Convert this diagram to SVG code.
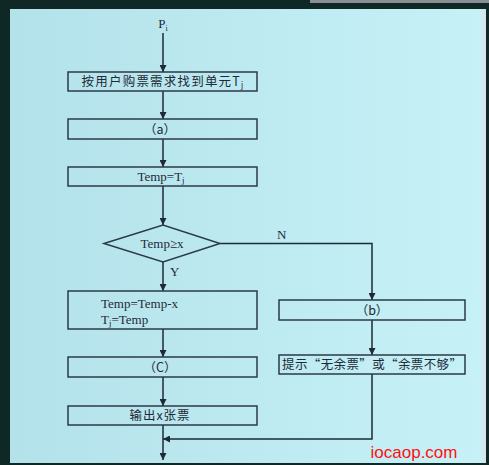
<svg xmlns="http://www.w3.org/2000/svg" width="489" height="465" viewBox="0 0 489 465">
<defs>
<linearGradient id="bg" x1="0" y1="0" x2="1" y2="0">
<stop offset="0" stop-color="#b4e2ea"/>
<stop offset="1" stop-color="#c6f1f7"/>
</linearGradient>
<marker id="ah" viewBox="0 0 10 10" refX="10" refY="5" markerWidth="7" markerHeight="7" markerUnits="userSpaceOnUse" orient="auto">
<path d="M0,0 L10,5 L0,10 z" fill="#1e2a36"/>
</marker>
<style>
.box{fill:none;stroke:#2b3a48;stroke-width:1.5}
.ln{fill:none;stroke:#1e2a36;stroke-width:1.5;marker-end:url(#ah)}
.cj{font-family:"Noto Sans CJK SC","Noto Sans",sans-serif;font-size:12.5px;fill:#1e2a36;text-anchor:middle}
.sf{font-family:"Liberation Serif","DejaVu Serif",serif;font-size:13px;fill:#1e2a36}
.c{text-anchor:middle}
</style>
</defs>
<rect x="0" y="0" width="489" height="465" fill="#0f2826"/>
<rect x="310" y="0" width="179" height="3" fill="#8a8f96"/>
<rect x="10" y="9" width="476" height="454" fill="url(#bg)"/>
<rect x="482" y="9" width="4" height="454" fill="#d4e8ec"/>

<g id="connectors">
<path class="ln" d="M163,33 V72"/>
<path class="ln" d="M163,91 V119"/>
<path class="ln" d="M163,139 V167"/>
<path class="ln" d="M163,186 V225"/>
<path class="ln" d="M163,262 V291"/>
<path class="ln" d="M220,243.5 H372 V300"/>
<path class="ln" d="M372,320 V355"/>
<path class="ln" d="M163,329 V357"/>
<path class="ln" d="M163,377 V406"/>
<path class="ln" d="M372,374 V439 H163"/>
<path class="ln" d="M163,425 V460"/>
<text class="sf" x="277" y="239">N</text>
<text class="sf" x="170" y="276">Y</text>
</g>

<g id="start"><text class="sf c" x="163" y="28">P<tspan font-size="8" dy="3">i</tspan></text></g>

<g id="n1"><rect class="box" x="68" y="72" width="189" height="19"/>
<text class="cj" x="163" y="86" letter-spacing="1.2">按用户购票需求找到单元T<tspan font-size="8" dy="2">j</tspan></text></g>

<g id="n2"><rect class="box" x="68" y="119" width="189" height="20"/>
<text class="cj" x="160" y="134">（a）</text></g>

<g id="n3"><rect class="box" x="68" y="167" width="189" height="19"/>
<text class="sf c" x="161" y="181">Temp=T<tspan font-size="9" dy="2">j</tspan></text></g>

<g id="n4"><path class="box" d="M104,243.5 L163,225 L220,243.5 L163,262 Z"/>
<text class="sf c" x="162" y="248">Temp≥x</text></g>

<g id="n5"><rect class="box" x="68" y="291" width="189" height="38"/>
<text class="sf" x="101" y="308">Temp=Temp-x</text>
<text class="sf" x="101" y="324">T<tspan font-size="9" dy="2">j</tspan><tspan dy="-2">=Temp</tspan></text></g>

<g id="n6"><rect class="box" x="279" y="300" width="186" height="20"/>
<text class="cj" x="372" y="315">（b）</text></g>

<g id="n7"><rect class="box" x="279" y="355" width="186" height="19"/>
<text class="cj" x="372" y="369" textLength="180" lengthAdjust="spacing">提示“无余票”或“余票不够”</text></g>

<g id="n8"><rect class="box" x="68" y="357" width="189" height="20"/>
<text class="cj" x="160" y="372">（C）</text></g>

<g id="n9"><rect class="box" x="68" y="406" width="189" height="19"/>
<text class="cj" x="160" y="420" letter-spacing="1">输出x张票</text></g>

<text x="414" y="458" text-anchor="middle" font-family="Liberation Sans, sans-serif" font-size="17" fill="#ff1010">iocaop.com</text>
</svg>
